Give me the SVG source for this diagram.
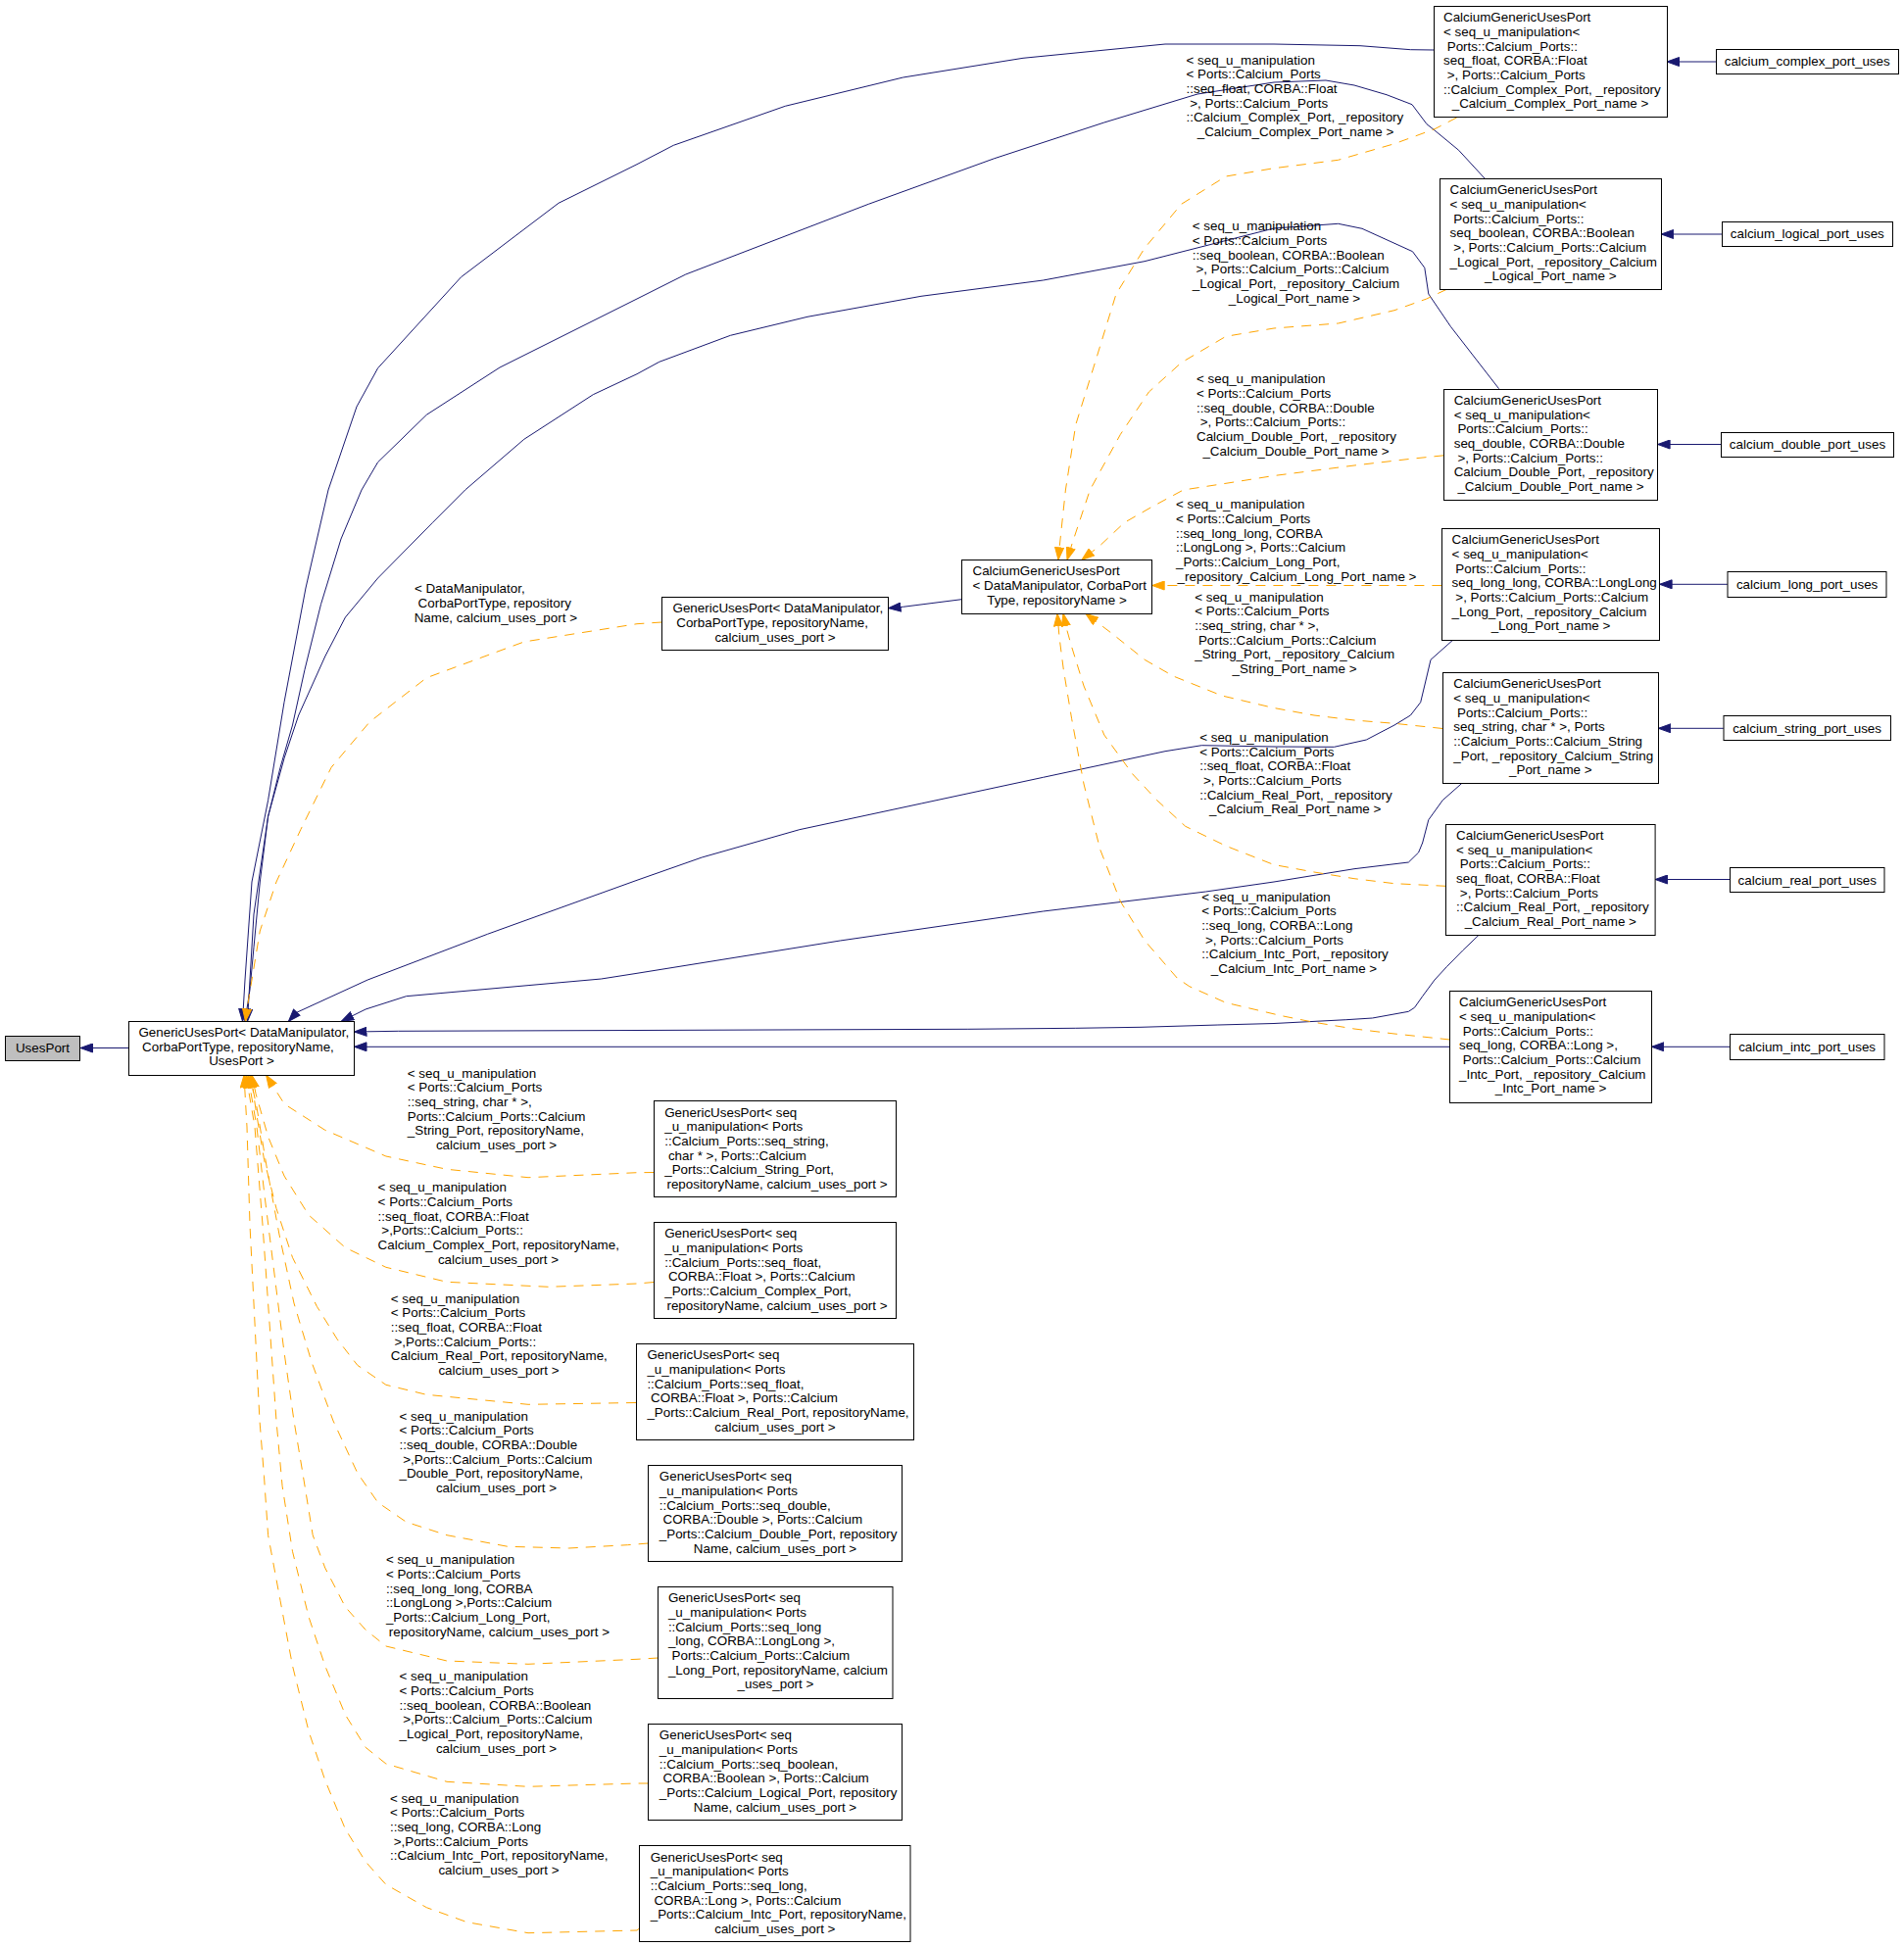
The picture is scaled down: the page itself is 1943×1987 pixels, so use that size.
<svg xmlns="http://www.w3.org/2000/svg" width="1943" height="1987" viewBox="0 0 1943 1987" xml:space="preserve">
<defs>
<style>
.n rect{fill:#fff;stroke:#000;stroke-width:1}
.n rect.g{fill:#bfbfbf}
.t{font-family:"Liberation Sans",Arial,sans-serif;font-size:13.4px;fill:#000}
.m{text-anchor:middle}
.s{fill:none;stroke:#191970;stroke-width:1;stroke-linejoin:round;marker-end:url(#an)}
.d{fill:none;stroke:#ffa500;stroke-width:1;stroke-linejoin:round;stroke-dasharray:10,8;marker-end:url(#ao)}
</style>
<marker id="an" viewBox="0 0 14 10" markerWidth="14" markerHeight="10" refX="13" refY="5" orient="auto" markerUnits="userSpaceOnUse"><path d="M0.5,0.5 L13,5 L0.5,9.5 z" fill="#191970" stroke="#191970" stroke-width="1"/></marker>
<marker id="ao" viewBox="0 0 14 10" markerWidth="14" markerHeight="10" refX="13" refY="5" orient="auto" markerUnits="userSpaceOnUse"><path d="M0.5,0.5 L13,5 L0.5,9.5 z" fill="#ffa500" stroke="#ffa500" stroke-width="1"/></marker>
</defs>
<rect x="0" y="0" width="1943" height="1987" fill="#fff"/>
<g id="connectors">
<path class="s" d="M131.4,1069.5 L82,1069.5"/>
<path class="s" d="M981.3,611.7 L921.6,619.3 L906.6,620.7"/>
<path class="s" d="M1751,63 L1701,63"/>
<path class="s" d="M1757.2,239 L1695.2,239"/>
<path class="s" d="M1756.3,453.5 L1691.6,453.5"/>
<path class="s" d="M1762.9,596.3 L1693.6,596.3"/>
<path class="s" d="M1758.8,743.3 L1692.4,743.3"/>
<path class="s" d="M1765.4,897.5 L1689.1,897.5"/>
<path class="s" d="M1765,1068.3 L1685.4,1068.3"/>
<path class="s" d="M1463,51 L1439.4,50.7 L1388,46.7 L1300,45 L1189,45 L1044,59.3 L921.6,79 L801.3,108.3 L687.3,148.3 L650,167.7 L570,207.3 L470.6,282.7 L385.6,375.7 L364,415 L335,500 L312,600 L290,716.7 L273.6,816.7 L257,900 L250,1000 L247.5,1042.3"/>
<path class="s" d="M1515,182 L1488.6,153.3 L1464,133 L1456,126.7 L1441,106.7 L1415,96.7 L1382,87 L1353,82 L1300,84 L1222,96 L1126.8,125 L1014.8,161.7 L886.3,208.3 L699.8,280 L650,305 L510,375 L435.3,423.3 L385.6,471.7 L369,500 L348,550 L327.5,616.7 L311,683.3 L298.5,740 L286,783.3 L273.6,833.3 L265.3,900 L259,966.7 L255,1010 L250,1042.3"/>
<path class="s" d="M1529.6,396.7 L1480.4,333.3 L1457.8,300 L1453.8,273.3 L1441.5,256.7 L1390,233.3 L1365.6,228.3 L1300,233 L1168,266.7 L1064.6,286 L940,302.3 L824,323.3 L745.4,342.3 L672.8,369.3 L650,381.7 L605.3,402.7 L534.8,448.3 L474.7,500 L441.5,533.3 L385.6,590 L352.4,630 L331.7,670 L304.7,730 L290.2,773.3 L273.6,833 L259,933 L255,1000 L252.5,1042.3"/>
<path class="s" d="M1482.5,653.3 L1460,673.3 L1453.7,700 L1449.7,716.7 L1439.4,730 L1423,740 L1394.3,755 L1361.5,762.3 L1300,762 L1226.3,760.7 L1189,766.7 L1064.6,793.3 L940.2,820 L815.8,846.7 L716.3,875 L650,898.3 L497.5,953.3 L375.2,1000 L302.7,1033.3 L294.4,1042.3"/>
<path class="s" d="M1491.9,799.3 L1472.2,816.7 L1457.8,836.7 L1451.7,860 L1447.6,870 L1437.4,880 L1382,886.7 L1300,900 L1230.4,910 L1064.6,930 L857.3,960 L650,993.3 L613.6,999 L414.6,1016.7 L373.1,1030 L348.3,1042.3"/>
<path class="s" d="M1509,954.3 L1492.7,970 L1476.3,986.7 L1464,1000 L1451.7,1016.7 L1443.5,1028.3 L1437.4,1032.3 L1400.5,1039 L1373.8,1040.7 L1300,1044.5 L1242.9,1046 L1164,1048.3 L1097.8,1049.3 L987.9,1050.3 L650,1051.5 L406.3,1052.3 L361.5,1053"/>
<path class="s" d="M1479.6,1068.3 L361.5,1068.3"/>
<path class="d" d="M675.3,635 L650,636.7 L534.8,655 L435.3,691.7 L377.3,736.7 L338,783.3 L306.8,846.7 L282,900 L265.3,950 L257,1000 L252,1030 L250.5,1042.3"/>
<path class="d" d="M1486.6,120 L1464,131.7 L1423,146.7 L1365.6,163.3 L1300,171.7 L1251,180 L1205.6,208.3 L1168,253.3 L1139,300 L1118.5,366.7 L1097.8,433.3 L1087.4,500 L1081,560 L1080,571.3"/>
<path class="d" d="M1476.3,295.3 L1455.8,305 L1423,316.7 L1365.6,330 L1300,335 L1251,343.3 L1205.6,370 L1172.4,400 L1143.4,443.3 L1112.3,500 L1094,555 L1089,571.3"/>
<path class="d" d="M1473.4,464.8 L1439.4,468.3 L1382,475 L1300,485.5 L1251,493.3 L1207.6,500 L1176.5,516.7 L1147.5,533.3 L1122.6,556.7 L1104,571.3"/>
<path class="d" d="M1471.4,597.5 L1175.7,597.5"/>
<path class="d" d="M1472.2,743.5 L1423,738.3 L1382,735 L1341,730 L1300,722.5 L1247,710 L1197.3,690 L1168.2,673.3 L1135,646.7 L1108,626.3"/>
<path class="d" d="M1475.5,904.3 L1423,901.7 L1382,896.7 L1341,890 L1300,882.5 L1251,863.3 L1209.7,843.3 L1180.7,816.7 L1155.8,790 L1126.8,750 L1106,700 L1093.6,660 L1088,640 L1085,626.3"/>
<path class="d" d="M1479.6,1061 L1423,1055 L1382,1050 L1341,1043.3 L1308,1036.7 L1251,1023.3 L1213.8,1006.7 L1201.4,998.3 L1168.2,960 L1143.4,920 L1122.6,866.7 L1106,800 L1093.6,733.3 L1085.3,683.3 L1081,650 L1079,626.3"/>
<path class="d" d="M667.4,1196.5 L650,1196.7 L539,1201.7 L456,1193.3 L393.9,1180 L331.7,1153.3 L290.2,1126.7 L271.6,1097.3"/>
<path class="d" d="M667.4,1308.5 L650,1310 L559.7,1313.3 L456,1308.3 L393.9,1293.3 L352.4,1273.3 L315,1240 L290,1200 L273.6,1160 L261.2,1116.7 L257,1097.3"/>
<path class="d" d="M649,1431.5 L539,1433.3 L435.3,1423.3 L393.9,1413.3 L364.8,1393.3 L344.1,1366.7 L323.4,1333.3 L298.5,1283.3 L282,1233.3 L269.5,1183.3 L261.2,1133.3 L256,1097.3"/>
<path class="d" d="M661.6,1575 L640.5,1576.7 L580.4,1580 L518.2,1578.3 L456,1566.7 L414.6,1553.3 L385.6,1533.3 L364.8,1503.3 L340,1450 L318,1390 L300,1330 L285,1260 L272,1190 L262,1130 L255,1097.3"/>
<path class="d" d="M671.6,1692 L650,1693.3 L539,1698.3 L456,1695 L393.9,1680 L373.1,1663.3 L352.4,1640 L331.7,1600 L319.2,1566.7 L308.9,1503.3 L300,1450 L290,1380 L280,1300 L270,1220 L262,1150 L253,1097.3"/>
<path class="d" d="M661.6,1820 L650,1820 L539,1823.3 L456,1818.3 L393.9,1800 L373.1,1783.3 L352.4,1750 L331.7,1700 L315,1650 L298.5,1583.3 L288.1,1516.7 L282,1450 L275,1350 L268,1250 L260,1150 L251,1097.3"/>
<path class="d" d="M652.5,1968 L650,1970 L539,1972.7 L476.8,1961.7 L435.3,1946.7 L393.9,1923.3 L373.1,1900 L352.4,1866.7 L331.7,1816.7 L315,1766.7 L298.5,1700 L286,1633.3 L273.6,1566.7 L269.5,1506.7 L265,1450 L260,1350 L255,1250 L252,1150 L249,1097.3"/>
</g>
<g id="edge-labels">
<g id="lbl-c-b"><text class="t"><tspan x="422.9" y="604.5"> &lt; DataManipulator,</tspan><tspan x="422.9" y="619.6"> CorbaPortType, repository</tspan></text><text class="t m" x="505.8" y="634.7">Name, calcium_uses_port &gt;</text></g>
<g id="lbl-complex-d"><text class="t"><tspan x="1210.5" y="65.5"> &lt; seq_u_manipulation</tspan><tspan x="1210.5" y="80.2">&lt; Ports::Calcium_Ports</tspan><tspan x="1210.5" y="94.8">::seq_float, CORBA::Float</tspan><tspan x="1210.5" y="109.5"> &gt;, Ports::Calcium_Ports</tspan><tspan x="1210.5" y="124.2">::Calcium_Complex_Port, _repository</tspan></text><text class="t m" x="1322" y="138.8">_Calcium_Complex_Port_name &gt;</text></g>
<g id="lbl-logical-d"><text class="t"><tspan x="1216.8" y="235.2"> &lt; seq_u_manipulation</tspan><tspan x="1216.8" y="249.9">&lt; Ports::Calcium_Ports</tspan><tspan x="1216.8" y="264.5">::seq_boolean, CORBA::Boolean</tspan><tspan x="1216.8" y="279.2"> &gt;, Ports::Calcium_Ports::Calcium</tspan><tspan x="1216.8" y="293.9">_Logical_Port, _repository_Calcium</tspan></text><text class="t m" x="1321" y="308.5">_Logical_Port_name &gt;</text></g>
<g id="lbl-double-d"><text class="t"><tspan x="1221" y="391.2"> &lt; seq_u_manipulation</tspan><tspan x="1221" y="405.9">&lt; Ports::Calcium_Ports</tspan><tspan x="1221" y="420.5">::seq_double, CORBA::Double</tspan><tspan x="1221" y="435.2"> &gt;, Ports::Calcium_Ports::</tspan><tspan x="1221" y="449.9">Calcium_Double_Port, _repository</tspan></text><text class="t m" x="1322.5" y="464.5">_Calcium_Double_Port_name &gt;</text></g>
<g id="lbl-long-d"><text class="t"><tspan x="1200" y="519.2"> &lt; seq_u_manipulation</tspan><tspan x="1200" y="533.9">&lt; Ports::Calcium_Ports</tspan><tspan x="1200" y="548.5">::seq_long_long, CORBA</tspan><tspan x="1200" y="563.2">::LongLong &gt;, Ports::Calcium</tspan><tspan x="1200" y="577.9">_Ports::Calcium_Long_Port,</tspan></text><text class="t m" x="1323.5" y="592.5">_repository_Calcium_Long_Port_name &gt;</text></g>
<g id="lbl-string-d"><text class="t"><tspan x="1219.2" y="613.5"> &lt; seq_u_manipulation</tspan><tspan x="1219.2" y="628.2">&lt; Ports::Calcium_Ports</tspan><tspan x="1219.2" y="642.8">::seq_string, char * &gt;,</tspan><tspan x="1219.2" y="657.5"> Ports::Calcium_Ports::Calcium</tspan><tspan x="1219.2" y="672.2">_String_Port, _repository_Calcium</tspan></text><text class="t m" x="1321" y="686.8">_String_Port_name &gt;</text></g>
<g id="lbl-real-d"><text class="t"><tspan x="1224.2" y="756.8"> &lt; seq_u_manipulation</tspan><tspan x="1224.2" y="771.5">&lt; Ports::Calcium_Ports</tspan><tspan x="1224.2" y="786.1">::seq_float, CORBA::Float</tspan><tspan x="1224.2" y="800.8"> &gt;, Ports::Calcium_Ports</tspan><tspan x="1224.2" y="815.5">::Calcium_Real_Port, _repository</tspan></text><text class="t m" x="1321.7" y="830.1">_Calcium_Real_Port_name &gt;</text></g>
<g id="lbl-intc-d"><text class="t"><tspan x="1226.3" y="919.5"> &lt; seq_u_manipulation</tspan><tspan x="1226.3" y="934.2">&lt; Ports::Calcium_Ports</tspan><tspan x="1226.3" y="948.8">::seq_long, CORBA::Long</tspan><tspan x="1226.3" y="963.5"> &gt;, Ports::Calcium_Ports</tspan><tspan x="1226.3" y="978.2">::Calcium_Intc_Port, _repository</tspan></text><text class="t m" x="1320.5" y="992.8">_Calcium_Intc_Port_name &gt;</text></g>
<g id="lbl-gstring-b"><text class="t"><tspan x="415.8" y="1099.5"> &lt; seq_u_manipulation</tspan><tspan x="415.8" y="1114.2">&lt; Ports::Calcium_Ports</tspan><tspan x="415.8" y="1128.8">::seq_string, char * &gt;,</tspan><tspan x="415.8" y="1143.5">Ports::Calcium_Ports::Calcium</tspan><tspan x="415.8" y="1158.2">_String_Port, repositoryName,</tspan></text><text class="t m" x="506.5" y="1172.8">calcium_uses_port &gt;</text></g>
<g id="lbl-gcomplex-b"><text class="t"><tspan x="385.6" y="1216.2"> &lt; seq_u_manipulation</tspan><tspan x="385.6" y="1230.9">&lt; Ports::Calcium_Ports</tspan><tspan x="385.6" y="1245.5">::seq_float, CORBA::Float</tspan><tspan x="385.6" y="1260.2"> &gt;,Ports::Calcium_Ports::</tspan><tspan x="385.6" y="1274.9">Calcium_Complex_Port, repositoryName,</tspan></text><text class="t m" x="508.5" y="1289.5">calcium_uses_port &gt;</text></g>
<g id="lbl-greal-b"><text class="t"><tspan x="398.8" y="1329.5"> &lt; seq_u_manipulation</tspan><tspan x="398.8" y="1344.2">&lt; Ports::Calcium_Ports</tspan><tspan x="398.8" y="1358.8">::seq_float, CORBA::Float</tspan><tspan x="398.8" y="1373.5"> &gt;,Ports::Calcium_Ports::</tspan><tspan x="398.8" y="1388.2">Calcium_Real_Port, repositoryName,</tspan></text><text class="t m" x="509" y="1402.8">calcium_uses_port &gt;</text></g>
<g id="lbl-gdouble-b"><text class="t"><tspan x="407.5" y="1449.5"> &lt; seq_u_manipulation</tspan><tspan x="407.5" y="1464.2">&lt; Ports::Calcium_Ports</tspan><tspan x="407.5" y="1478.8">::seq_double, CORBA::Double</tspan><tspan x="407.5" y="1493.5"> &gt;,Ports::Calcium_Ports::Calcium</tspan><tspan x="407.5" y="1508.2">_Double_Port, repositoryName,</tspan></text><text class="t m" x="506.5" y="1522.8">calcium_uses_port &gt;</text></g>
<g id="lbl-glong-b"><text class="t"><tspan x="393.9" y="1596.2"> &lt; seq_u_manipulation</tspan><tspan x="393.9" y="1610.9">&lt; Ports::Calcium_Ports</tspan><tspan x="393.9" y="1625.5">::seq_long_long, CORBA</tspan><tspan x="393.9" y="1640.2">::LongLong &gt;,Ports::Calcium</tspan><tspan x="393.9" y="1654.9">_Ports::Calcium_Long_Port,</tspan></text><text class="t m" x="509.4" y="1669.5">repositoryName, calcium_uses_port &gt;</text></g>
<g id="lbl-glogical-b"><text class="t"><tspan x="407.5" y="1715.2"> &lt; seq_u_manipulation</tspan><tspan x="407.5" y="1729.9">&lt; Ports::Calcium_Ports</tspan><tspan x="407.5" y="1744.5">::seq_boolean, CORBA::Boolean</tspan><tspan x="407.5" y="1759.2"> &gt;,Ports::Calcium_Ports::Calcium</tspan><tspan x="407.5" y="1773.9">_Logical_Port, repositoryName,</tspan></text><text class="t m" x="506.5" y="1788.5">calcium_uses_port &gt;</text></g>
<g id="lbl-gintc-b"><text class="t"><tspan x="398" y="1839.5"> &lt; seq_u_manipulation</tspan><tspan x="398" y="1854.2">&lt; Ports::Calcium_Ports</tspan><tspan x="398" y="1868.8">::seq_long, CORBA::Long</tspan><tspan x="398" y="1883.5"> &gt;,Ports::Calcium_Ports</tspan><tspan x="398" y="1898.2">::Calcium_Intc_Port, repositoryName,</tspan></text><text class="t m" x="509" y="1912.8">calcium_uses_port &gt;</text></g>
</g>
<g id="node-usesport" class="n"><rect class="g" x="5.5" y="1057.5" width="76" height="25"/><text class="t m" x="43.5" y="1074.2">UsesPort</text></g>
<g id="node-genericusesport" class="n"><rect x="131.5" y="1042.5" width="230" height="55"/><text class="t"><tspan x="141.4" y="1057.8">GenericUsesPort&lt; DataManipulator,</tspan><tspan x="141.4" y="1072.5"> CorbaPortType, repositoryName,</tspan></text><text class="t m" x="246.5" y="1087.1">UsesPort &gt;</text></g>
<g id="node-genericusesport-calcium" class="n"><rect x="675.5" y="609.5" width="231" height="54"/><text class="t"><tspan x="686.5" y="625.2">GenericUsesPort&lt; DataManipulator,</tspan><tspan x="686.5" y="639.9"> CorbaPortType, repositoryName,</tspan></text><text class="t m" x="791" y="654.5">calcium_uses_port &gt;</text></g>
<g id="node-calciumgenericusesport" class="n"><rect x="981.5" y="571.5" width="194" height="55"/><text class="t"><tspan x="992.5" y="587.2">CalciumGenericUsesPort</tspan><tspan x="992.5" y="601.9">&lt; DataManipulator, CorbaPort</tspan></text><text class="t m" x="1078.5" y="616.5">Type, repositoryName &gt;</text></g>
<g id="node-cgup-complex" class="n"><rect x="1463.5" y="6.5" width="238" height="113"/><text class="t"><tspan x="1473" y="22.2">CalciumGenericUsesPort</tspan><tspan x="1473" y="36.9">&lt; seq_u_manipulation&lt;</tspan><tspan x="1473" y="51.5"> Ports::Calcium_Ports::</tspan><tspan x="1473" y="66.2">seq_float, CORBA::Float</tspan><tspan x="1473" y="80.9"> &gt;, Ports::Calcium_Ports</tspan><tspan x="1473" y="95.5">::Calcium_Complex_Port, _repository</tspan></text><text class="t m" x="1582" y="110.2">_Calcium_Complex_Port_name &gt;</text></g>
<g id="node-cgup-logical" class="n"><rect x="1469.5" y="182.5" width="226" height="113"/><text class="t"><tspan x="1479.6" y="198.2">CalciumGenericUsesPort</tspan><tspan x="1479.6" y="212.9">&lt; seq_u_manipulation&lt;</tspan><tspan x="1479.6" y="227.5"> Ports::Calcium_Ports::</tspan><tspan x="1479.6" y="242.2">seq_boolean, CORBA::Boolean</tspan><tspan x="1479.6" y="256.9"> &gt;, Ports::Calcium_Ports::Calcium</tspan><tspan x="1479.6" y="271.5">_Logical_Port, _repository_Calcium</tspan></text><text class="t m" x="1582.3" y="286.2">_Logical_Port_name &gt;</text></g>
<g id="node-cgup-double" class="n"><rect x="1473.5" y="397.5" width="218" height="113"/><text class="t"><tspan x="1483.7" y="412.8">CalciumGenericUsesPort</tspan><tspan x="1483.7" y="427.5">&lt; seq_u_manipulation&lt;</tspan><tspan x="1483.7" y="442.1"> Ports::Calcium_Ports::</tspan><tspan x="1483.7" y="456.8">seq_double, CORBA::Double</tspan><tspan x="1483.7" y="471.5"> &gt;, Ports::Calcium_Ports::</tspan><tspan x="1483.7" y="486.1">Calcium_Double_Port, _repository</tspan></text><text class="t m" x="1582.5" y="500.8">_Calcium_Double_Port_name &gt;</text></g>
<g id="node-cgup-long" class="n"><rect x="1471.5" y="539.5" width="222" height="114"/><text class="t"><tspan x="1481.6" y="555.2">CalciumGenericUsesPort</tspan><tspan x="1481.6" y="569.9">&lt; seq_u_manipulation&lt;</tspan><tspan x="1481.6" y="584.5"> Ports::Calcium_Ports::</tspan><tspan x="1481.6" y="599.2">seq_long_long, CORBA::LongLong</tspan><tspan x="1481.6" y="613.9"> &gt;, Ports::Calcium_Ports::Calcium</tspan><tspan x="1481.6" y="628.5">_Long_Port, _repository_Calcium</tspan></text><text class="t m" x="1582.5" y="643.2">_Long_Port_name &gt;</text></g>
<g id="node-cgup-string" class="n"><rect x="1472.5" y="686.5" width="220" height="113"/><text class="t"><tspan x="1483.3" y="702.2">CalciumGenericUsesPort</tspan><tspan x="1483.3" y="716.9">&lt; seq_u_manipulation&lt;</tspan><tspan x="1483.3" y="731.5"> Ports::Calcium_Ports::</tspan><tspan x="1483.3" y="746.2">seq_string, char * &gt;, Ports</tspan><tspan x="1483.3" y="760.9">::Calcium_Ports::Calcium_String</tspan><tspan x="1483.3" y="775.5">_Port, _repository_Calcium_String</tspan></text><text class="t m" x="1582.3" y="790.2">_Port_name &gt;</text></g>
<g id="node-cgup-real" class="n"><rect x="1475.5" y="841.5" width="213.6" height="113"/><text class="t"><tspan x="1486.1" y="856.8">CalciumGenericUsesPort</tspan><tspan x="1486.1" y="871.5">&lt; seq_u_manipulation&lt;</tspan><tspan x="1486.1" y="886.1"> Ports::Calcium_Ports::</tspan><tspan x="1486.1" y="900.8">seq_float, CORBA::Float</tspan><tspan x="1486.1" y="915.5"> &gt;, Ports::Calcium_Ports</tspan><tspan x="1486.1" y="930.1">::Calcium_Real_Port, _repository</tspan></text><text class="t m" x="1582.3" y="944.8">_Calcium_Real_Port_name &gt;</text></g>
<g id="node-cgup-intc" class="n"><rect x="1479.5" y="1011.5" width="206" height="114"/><text class="t"><tspan x="1489" y="1027.2">CalciumGenericUsesPort</tspan><tspan x="1489" y="1041.9">&lt; seq_u_manipulation&lt;</tspan><tspan x="1489" y="1056.5"> Ports::Calcium_Ports::</tspan><tspan x="1489" y="1071.2">seq_long, CORBA::Long &gt;,</tspan><tspan x="1489" y="1085.9"> Ports::Calcium_Ports::Calcium</tspan><tspan x="1489" y="1100.5">_Intc_Port, _repository_Calcium</tspan></text><text class="t m" x="1582.5" y="1115.2">_Intc_Port_name &gt;</text></g>
<g id="node-complex-uses" class="n"><rect x="1751.5" y="50.5" width="186" height="25"/><text class="t m" x="1844.2" y="67.3">calcium_complex_port_uses</text></g>
<g id="node-logical-uses" class="n"><rect x="1757.5" y="226.5" width="174" height="25"/><text class="t m" x="1844.3" y="243.3">calcium_logical_port_uses</text></g>
<g id="node-double-uses" class="n"><rect x="1756.5" y="441.5" width="176" height="25"/><text class="t m" x="1844.5" y="458.3">calcium_double_port_uses</text></g>
<g id="node-long-uses" class="n"><rect x="1763" y="583.5" width="162" height="26"/><text class="t m" x="1844.1" y="600.9">calcium_long_port_uses</text></g>
<g id="node-string-uses" class="n"><rect x="1759" y="730.5" width="170.5" height="25"/><text class="t m" x="1844.1" y="747.5">calcium_string_port_uses</text></g>
<g id="node-real-uses" class="n"><rect x="1765.5" y="885.5" width="157.5" height="25"/><text class="t m" x="1844.3" y="902.5">calcium_real_port_uses</text></g>
<g id="node-intc-uses" class="n"><rect x="1765.5" y="1055.5" width="157.5" height="26"/><text class="t m" x="1844.1" y="1072.8">calcium_intc_port_uses</text></g>
<g id="node-gup-string" class="n"><rect x="667.5" y="1123.5" width="247" height="98"/><text class="t"><tspan x="678.2" y="1139.5">GenericUsesPort&lt; seq</tspan><tspan x="678.2" y="1154.2">_u_manipulation&lt; Ports</tspan><tspan x="678.2" y="1168.8">::Calcium_Ports::seq_string,</tspan><tspan x="678.2" y="1183.5"> char * &gt;, Ports::Calcium</tspan><tspan x="678.2" y="1198.2">_Ports::Calcium_String_Port,</tspan></text><text class="t m" x="793" y="1212.8">repositoryName, calcium_uses_port &gt;</text></g>
<g id="node-gup-complex" class="n"><rect x="667.5" y="1247.5" width="247" height="98"/><text class="t"><tspan x="678.2" y="1263.2">GenericUsesPort&lt; seq</tspan><tspan x="678.2" y="1277.9">_u_manipulation&lt; Ports</tspan><tspan x="678.2" y="1292.5">::Calcium_Ports::seq_float,</tspan><tspan x="678.2" y="1307.2"> CORBA::Float &gt;, Ports::Calcium</tspan><tspan x="678.2" y="1321.9">_Ports::Calcium_Complex_Port,</tspan></text><text class="t m" x="793" y="1336.5">repositoryName, calcium_uses_port &gt;</text></g>
<g id="node-gup-real" class="n"><rect x="649.5" y="1371.5" width="283" height="98"/><text class="t"><tspan x="660.4" y="1387.2">GenericUsesPort&lt; seq</tspan><tspan x="660.4" y="1401.9">_u_manipulation&lt; Ports</tspan><tspan x="660.4" y="1416.5">::Calcium_Ports::seq_float,</tspan><tspan x="660.4" y="1431.2"> CORBA::Float &gt;, Ports::Calcium</tspan><tspan x="660.4" y="1445.9">_Ports::Calcium_Real_Port, repositoryName,</tspan></text><text class="t m" x="790.9" y="1460.5">calcium_uses_port &gt;</text></g>
<g id="node-gup-double" class="n"><rect x="661.5" y="1495.5" width="259" height="98"/><text class="t"><tspan x="672.8" y="1511.2">GenericUsesPort&lt; seq</tspan><tspan x="672.8" y="1525.9">_u_manipulation&lt; Ports</tspan><tspan x="672.8" y="1540.5">::Calcium_Ports::seq_double,</tspan><tspan x="672.8" y="1555.2"> CORBA::Double &gt;, Ports::Calcium</tspan><tspan x="672.8" y="1569.9">_Ports::Calcium_Double_Port, repository</tspan></text><text class="t m" x="791" y="1584.5">Name, calcium_uses_port &gt;</text></g>
<g id="node-gup-long" class="n"><rect x="671.5" y="1619.5" width="239.5" height="114"/><text class="t"><tspan x="681.9" y="1635.2">GenericUsesPort&lt; seq</tspan><tspan x="681.9" y="1649.9">_u_manipulation&lt; Ports</tspan><tspan x="681.9" y="1664.5">::Calcium_Ports::seq_long</tspan><tspan x="681.9" y="1679.2">_long, CORBA::LongLong &gt;,</tspan><tspan x="681.9" y="1693.9"> Ports::Calcium_Ports::Calcium</tspan><tspan x="681.9" y="1708.5">_Long_Port, repositoryName, calcium</tspan></text><text class="t m" x="791.4" y="1723.2">_uses_port &gt;</text></g>
<g id="node-gup-logical" class="n"><rect x="661.5" y="1759.5" width="259" height="98"/><text class="t"><tspan x="672.8" y="1775.2">GenericUsesPort&lt; seq</tspan><tspan x="672.8" y="1789.9">_u_manipulation&lt; Ports</tspan><tspan x="672.8" y="1804.5">::Calcium_Ports::seq_boolean,</tspan><tspan x="672.8" y="1819.2"> CORBA::Boolean &gt;, Ports::Calcium</tspan><tspan x="672.8" y="1833.9">_Ports::Calcium_Logical_Port, repository</tspan></text><text class="t m" x="791" y="1848.5">Name, calcium_uses_port &gt;</text></g>
<g id="node-gup-intc" class="n"><rect x="652.5" y="1883.5" width="276.5" height="98"/><text class="t"><tspan x="663.7" y="1899.5">GenericUsesPort&lt; seq</tspan><tspan x="663.7" y="1914.2">_u_manipulation&lt; Ports</tspan><tspan x="663.7" y="1928.8">::Calcium_Ports::seq_long,</tspan><tspan x="663.7" y="1943.5"> CORBA::Long &gt;, Ports::Calcium</tspan><tspan x="663.7" y="1958.2">_Ports::Calcium_Intc_Port, repositoryName,</tspan></text><text class="t m" x="790.8" y="1972.8">calcium_uses_port &gt;</text></g>
</svg>
